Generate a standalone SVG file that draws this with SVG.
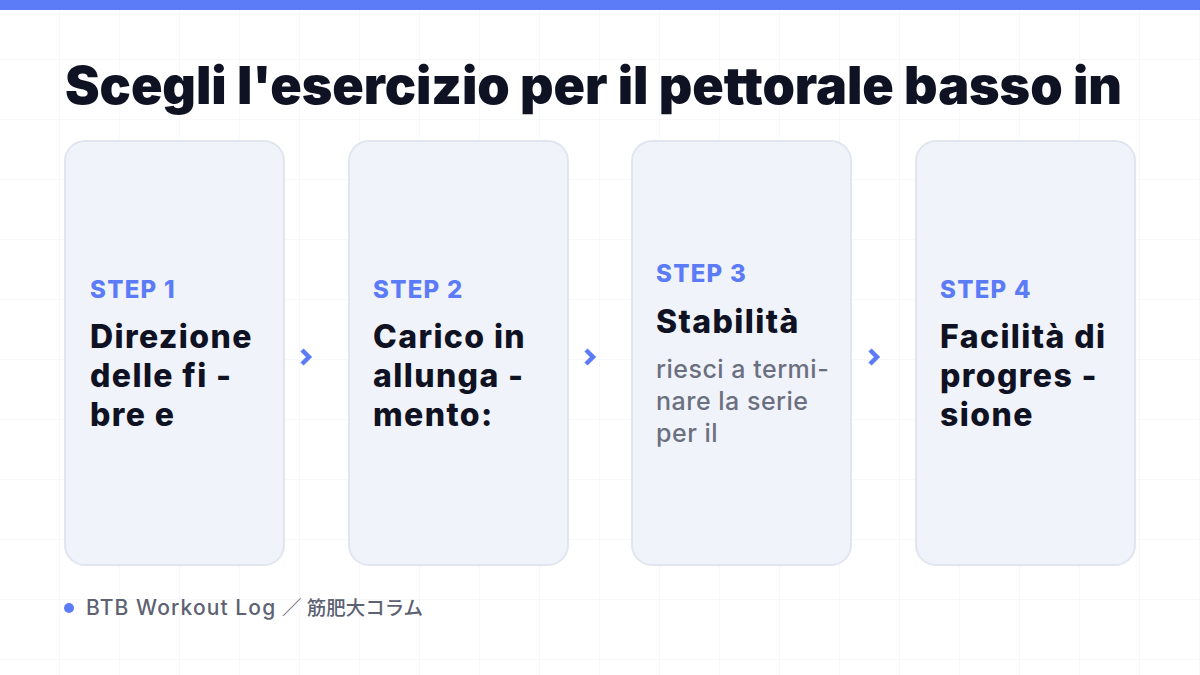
<svg xmlns="http://www.w3.org/2000/svg" width="1200" height="675" viewBox="0 0 1200 675">
<defs>
<pattern id="grid" width="60" height="60" patternUnits="userSpaceOnUse">
<path d="M60 0V60M0 60H60" fill="none" stroke="#eef0f4" stroke-width="1"/>
</pattern>
</defs>
<style>
.card{fill:#f1f3fb;stroke:#e1e5f0;stroke-width:2}
.step{font-family:Inter,"Liberation Sans",sans-serif;font-weight:800;font-size:24px;letter-spacing:1.3px;fill:#5b7cf6}
.head{font-family:Inter,"Liberation Sans",sans-serif;font-weight:800;font-size:32px;letter-spacing:1.4px;fill:#0f1222}
.body{font-family:Inter,"Liberation Sans",sans-serif;font-weight:500;font-size:25px;letter-spacing:0.5px;fill:#6b7080}
.foot{font-family:Inter,"Liberation Sans","Noto Sans CJK JP",sans-serif;font-weight:500;fill:#5d6272}
.arrow{fill:none;stroke:#5b7cf6;stroke-width:4.5;stroke-linecap:butt;stroke-linejoin:miter}
</style>
<rect width="1200" height="675" fill="#ffffff"/>
<rect width="1200" height="675" fill="url(#grid)"/>
<rect width="1200" height="10" fill="#5b7cf6"/>
<text x="65" y="104" font-family="Inter,'Liberation Sans',sans-serif" font-weight="900" font-size="52" fill="#0f1222" textLength="1057" lengthAdjust="spacing">Scegli l'esercizio per il pettorale basso in</text>
<g id="step1">
<rect class="card" x="65" y="141" width="219" height="424" rx="20"/>
<text class="step" x="90" y="298">STEP 1</text>
<text class="head" x="90" y="348">Direzione</text>
<text class="head" x="90" y="387">delle fi -</text>
<text class="head" x="90" y="426">bre e</text>
</g>
<g id="step2">
<rect class="card" x="349" y="141" width="219" height="424" rx="20"/>
<text class="step" x="373" y="298">STEP 2</text>
<text class="head" x="373" y="348">Carico in</text>
<text class="head" x="373" y="387">allunga -</text>
<text class="head" x="373" y="426">mento:</text>
</g>
<g id="step3">
<rect class="card" x="632" y="141" width="219" height="424" rx="20"/>
<text class="step" x="656" y="282">STEP 3</text>
<text class="head" x="656" y="333">Stabilità</text>
<text class="body" x="656" y="378">riesci a termi-</text>
<text class="body" x="656" y="410">nare la serie</text>
<text class="body" x="656" y="442">per il</text>
</g>
<g id="step4">
<rect class="card" x="916" y="141" width="219" height="424" rx="20"/>
<text class="step" x="940" y="298">STEP 4</text>
<text class="head" x="940" y="348">Facilità di</text>
<text class="head" x="940" y="387">progres -</text>
<text class="head" x="940" y="426">sione</text>
</g>
<g id="connectors">
<polyline class="arrow" points="302,350 309,357 302,364"/>
<polyline class="arrow" points="586,350 593,357 586,364"/>
<polyline class="arrow" points="870,350 877,357 870,364"/>
</g>
<g id="footer">
<circle cx="69" cy="608" r="5" fill="#5b7cf6"/>
<text class="foot" x="86" y="615" font-size="21" letter-spacing="1.1">BTB Workout Log</text>
<text class="foot" x="282" y="615" font-size="19.5">／ 筋肥大コラム</text>
</g>
</svg>
